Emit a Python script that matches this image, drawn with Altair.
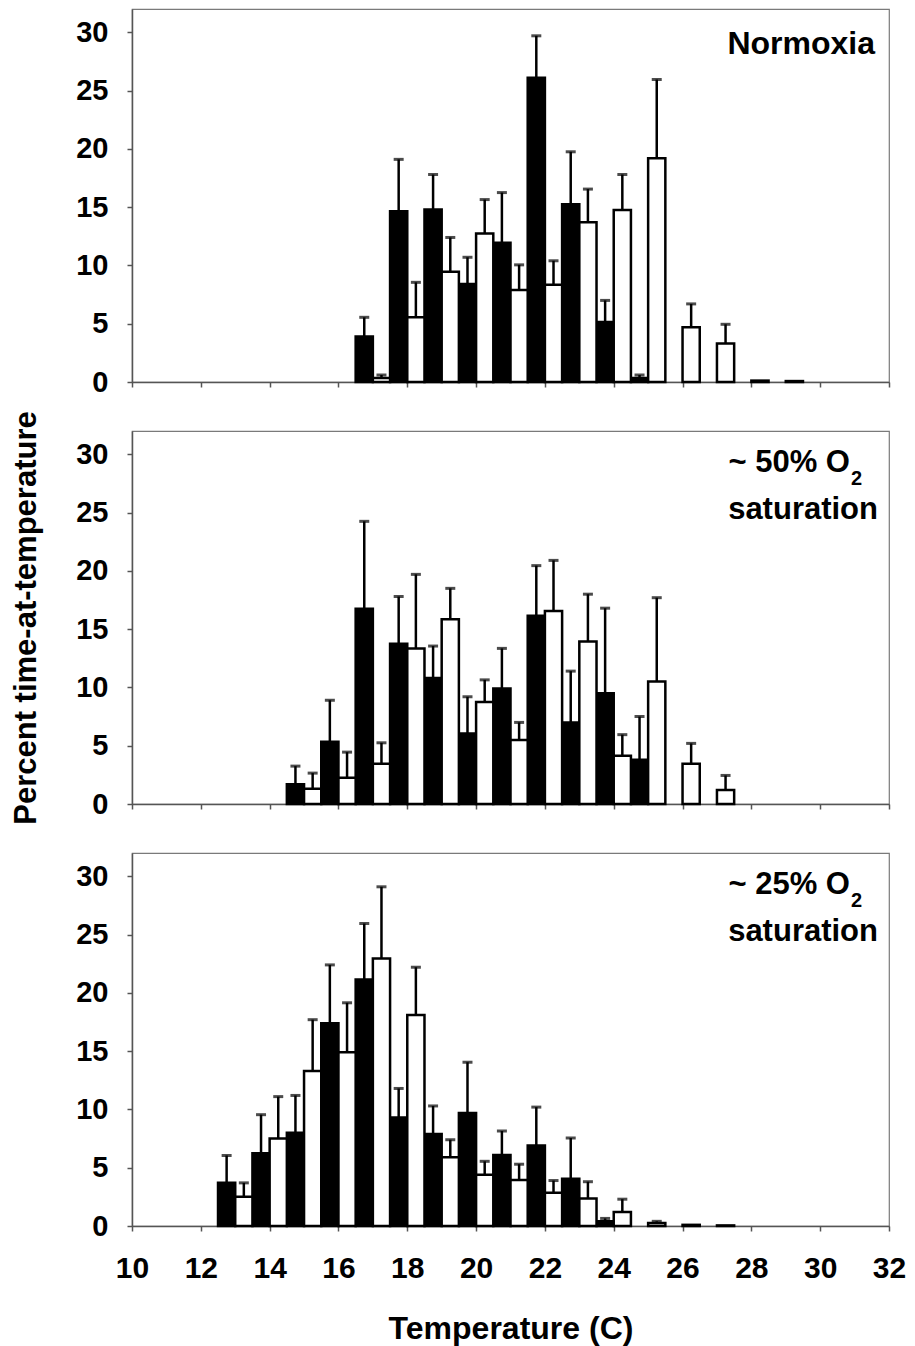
import altair as alt
import pandas as pd

FONT = "Liberation Sans"

# ---------------- data ----------------
# Normoxia
norm_temp = [17, 18, 19, 20, 21, 22, 23, 24, 25, 26, 27, 28, 29]
norm_black = [3.9, 14.65, 14.8, 8.4, 11.95, 26.1, 15.25, 5.15, 0.35, 0, 0, 0, 0]
norm_black_se = [1.65, 4.45, 3.0, 2.3, 4.3, 3.6, 4.5, 1.85, 0.25, 0, 0, 0, 0]
norm_white = [0.35, 5.55, 9.45, 12.75, 7.9, 8.35, 13.7, 14.75, 19.2, 4.7, 3.3, 0.12, 0.08]
norm_white_se = [0.25, 3.0, 2.95, 2.9, 2.15, 2.05, 2.85, 3.05, 6.75, 2.0, 1.65, 0, 0]

# ~50% O2 saturation
mid_temp = [15, 16, 17, 18, 19, 20, 21, 22, 23, 24, 25, 26, 27]
mid_black = [1.7, 5.35, 16.75, 13.75, 10.8, 6.05, 9.9, 16.15, 7.0, 9.5, 3.8, 0, 0]
mid_black_se = [1.55, 3.55, 7.5, 4.05, 2.75, 3.15, 3.45, 4.3, 4.4, 7.3, 3.7, 0, 0]
mid_white = [1.3, 2.25, 3.45, 13.35, 15.85, 8.75, 5.5, 16.55, 13.95, 4.15, 10.5, 3.45, 1.2]
mid_white_se = [1.35, 2.2, 1.8, 6.35, 2.65, 1.9, 1.5, 4.35, 4.05, 1.8, 7.2, 1.75, 1.25]

# ~25% O2 saturation
low_temp = [13, 14, 15, 16, 17, 18, 19, 20, 21, 22, 23, 24, 25, 26, 27]
low_black = [3.7, 6.25, 8.0, 17.4, 21.15, 9.3, 7.9, 9.7, 6.1, 6.9, 4.05, 0.4, 0, 0, 0]
low_black_se = [2.35, 3.3, 3.2, 5.0, 4.8, 2.5, 2.4, 4.35, 2.05, 3.3, 3.5, 0.25, 0, 0, 0]
low_white = [2.5, 7.5, 13.3, 14.9, 22.95, 18.1, 5.9, 4.4, 3.95, 2.85, 2.35, 1.2, 0.25, 0.1, 0.05]
low_white_se = [1.2, 3.6, 4.4, 4.25, 6.15, 4.1, 1.5, 1.15, 1.35, 1.05, 1.45, 1.1, 0.15, 0, 0]

x_ticks = list(range(10, 33, 2))
y_ticks = [0, 5, 10, 15, 20, 25, 30]

W, H = 757, 373


def panel(temps, black, black_se, white, white_se, bottom, y_title, labels):
    rows = []
    for t, v, s in zip(temps, black, black_se):
        rows.append(dict(group="black", x0=t - 0.5, x1=t, xc=t - 0.25, v=v, se=s, hi=v + s))
    for t, v, s in zip(temps, white, white_se):
        rows.append(dict(group="white", x0=t, x1=t + 0.5, xc=t + 0.25, v=v, se=s, hi=v + s))
    df = pd.DataFrame(rows)

    xscale = alt.Scale(domain=[10, 32], nice=False, zero=False)
    yscale = alt.Scale(domain=[0, 32], nice=False, zero=True)
    xaxis = alt.Axis(
        values=x_ticks, tickSize=5, labels=bottom, labelFontSize=30,
        labelPadding=22, labelFlush=False, format="d",
        title="Temperature (C)" if bottom else None,
        titleFontSize=32, titlePadding=30,
    )
    yaxis = alt.Axis(
        values=y_ticks, tickSize=5, labelFontSize=29, labelPadding=19,
        title=y_title, titleFontSize=31, titlePadding=33,
    )

    base = alt.Chart(df)
    bars = base.transform_filter("datum.v > 0").mark_rect(
        stroke="black", strokeWidth=2.5
    ).encode(
        x=alt.X("x0:Q", scale=xscale, axis=xaxis),
        x2="x1:Q",
        y=alt.Y("v:Q", scale=yscale, axis=yaxis),
        y2=alt.datum(0),
        fill=alt.Fill("group:N", scale=alt.Scale(domain=["black", "white"],
                                                 range=["#000000", "#ffffff"]), legend=None),
    )
    err = base.transform_filter("datum.se > 0").mark_rule(
        color="black", strokeWidth=2.5
    ).encode(
        x=alt.X("xc:Q", scale=xscale, axis=xaxis),
        y=alt.Y("v:Q", scale=yscale, axis=yaxis),
        y2="hi:Q",
    )
    caps = base.transform_filter("datum.se > 0").mark_tick(
        color="black", orient="horizontal", size=10, thickness=3
    ).encode(
        x=alt.X("xc:Q", scale=xscale, axis=xaxis),
        y=alt.Y("hi:Q", scale=yscale, axis=yaxis),
    )
    layers = [bars, err, caps]
    for txt, px, py, size, align in labels:
        layers.append(
            alt.Chart(pd.DataFrame({"t": [txt]})).mark_text(
                font=FONT, fontWeight="bold", fontSize=size, align=align,
                baseline="alphabetic", color="black",
            ).encode(x=alt.value(px), y=alt.value(py), text="t:N")
        )
    return alt.layer(*layers).properties(width=W, height=H)


p1 = panel(norm_temp, norm_black, norm_black_se, norm_white, norm_white_se,
           False, None, [("Normoxia", 743, 45, 32, "right")])
p2 = panel(mid_temp, mid_black, mid_black_se, mid_white, mid_white_se,
           False, "Percent time-at-temperature",
           [("~ 50% O", 718, 41, 31, "right"), ("2", 719, 54, 20, "left"),
            ("saturation", 746, 88, 31, "right")])
p3 = panel(low_temp, low_black, low_black_se, low_white, low_white_se,
           True, None,
           [("~ 25% O", 718, 41, 31, "right"), ("2", 719, 54, 20, "left"),
            ("saturation", 746, 88, 31, "right")])

chart = alt.vconcat(p1, p2, p3, spacing=49, bounds="flush").properties(
    padding={"left": 2, "top": 0, "right": 0, "bottom": 5}
).configure_view(
    stroke="#7a7a7a", strokeWidth=1.2
).configure_axis(
    grid=False, domainColor="#555555", domainWidth=1.5, tickColor="#555555",
    tickWidth=1.5, labelFont=FONT, labelFontWeight="bold", labelColor="black",
    titleFont=FONT, titleFontWeight="bold", titleColor="black",
)

chart.save("out.html", embed_options={"renderer": "svg", "actions": False})
